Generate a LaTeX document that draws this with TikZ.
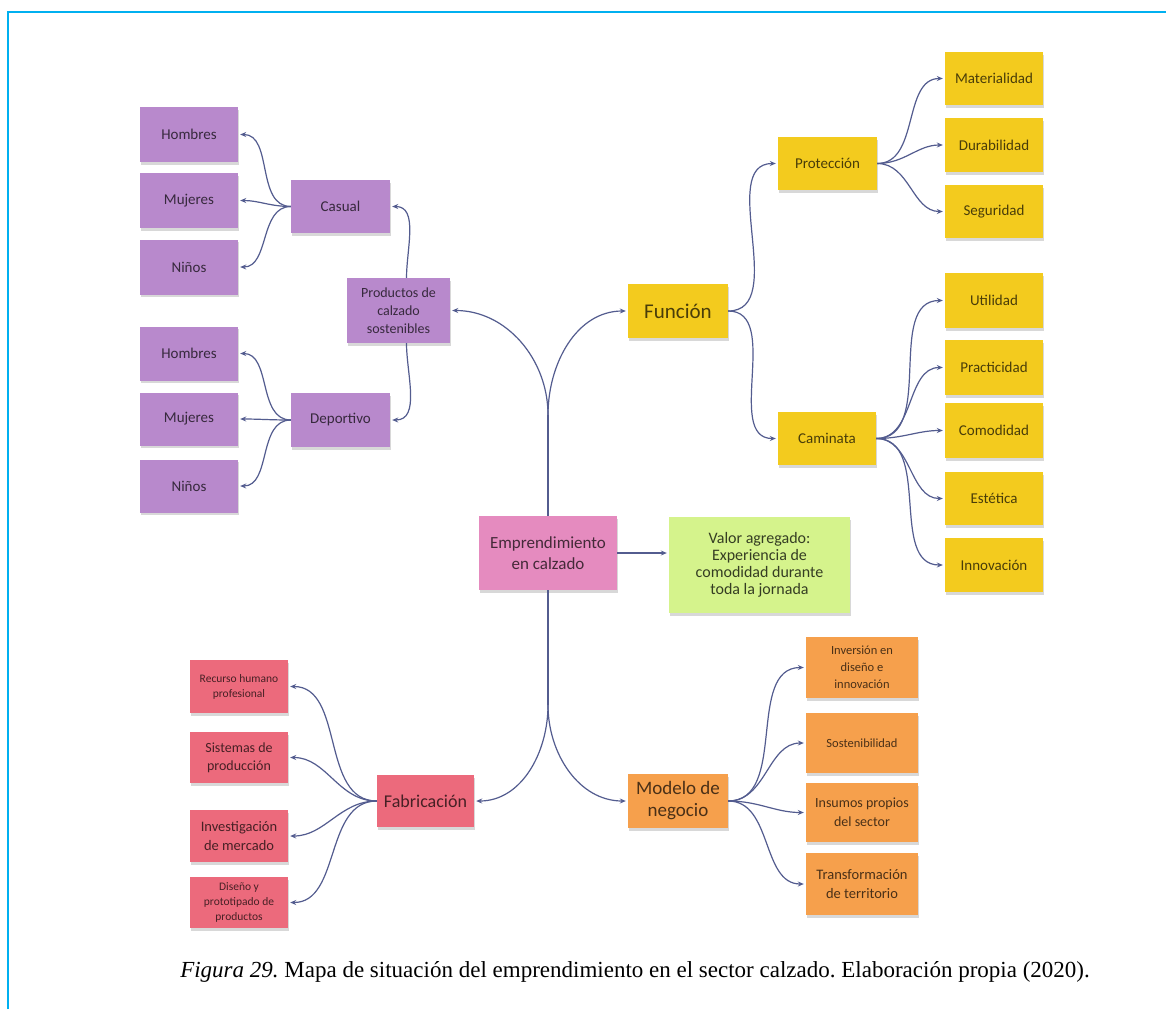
\documentclass[tikz,border=0pt]{standalone}
\usepackage{fontspec}
\setmainfont{Liberation Serif}
\newfontfamily\notefont{Carlito}
\usetikzlibrary{arrows.meta,shadows}
\frenchspacing

\definecolor{frameblue}{HTML}{00B0F0}
\definecolor{purp}{HTML}{B889CC}
\definecolor{yel}{HTML}{F3CB1E}
\definecolor{pink}{HTML}{E58BBF}
\definecolor{lime}{HTML}{D5F38C}
\definecolor{rosered}{HTML}{EC6A7C}
\definecolor{orng}{HTML}{F6A04C}
\definecolor{linkc}{HTML}{535C8F}

\begin{document}
\begin{tikzpicture}[x=1pt,y=-1pt,
  note/.style={fill=#1, text=#1!30!black, draw=none, align=center, inner sep=2pt,
    drop shadow={shadow xshift=0.5pt, shadow yshift=-2.5pt, opacity=0.3},
    font=\notefont\fontsize{15}{17}\selectfont},
  sz/.style 2 args={minimum width=#1pt, minimum height=#2pt},
  fs/.style 2 args={font=\notefont\fontsize{#1}{#2}\selectfont},
  link/.style={draw=linkc, line width=1.2pt},
  arr/.style={link, -{Stealth[length=6pt,width=5pt]}, shorten >=2pt},
]
\useasboundingbox (0,0) rectangle (1166,1009);
\fill[white] (0,0) rectangle (1166,1009);

% frame rules along the top and left edges
\draw[frameblue, line width=2.5pt] (8,1009) -- (8,12) -- (1166,12);

% ---- products (purple) ----
\node[note=purp, sz={98}{55}] (h1) at (189,134.5) {Hombres};
\node[note=purp, sz={98}{55}] (m1) at (189,200.5) {Mujeres};
\node[note=purp, sz={98}{55}] (n1) at (189,267) {Niños};
\node[note=purp, sz={99}{53}] (casual) at (340.5,206.5) {Casual};
\node[note=purp, sz={103}{65}, fs={14}{18}] (prod) at (398.5,310.5) {Productos de\\calzado\\sostenibles};
\node[note=purp, sz={98}{54}] (h2) at (189,353.5) {Hombres};
\node[note=purp, sz={98}{53}] (m2) at (189,419) {Mujeres};
\node[note=purp, sz={98}{53}] (n2) at (189,486) {Niños};
\node[note=purp, sz={99}{54}] (dep) at (340.5,420) {Deportivo};

% ---- function (yellow) ----
\node[note=yel, sz={100}{54}, fs={21}{24}] (func) at (678,311) {Función};
\node[note=yel, sz={99}{53}] (prot) at (827.5,163.5) {Protección};
\node[note=yel, sz={98}{53}] (cam) at (827,438.5) {Caminata};
\node[note=yel, sz={98}{53}] (mat) at (994,78.5) {Materialidad};
\node[note=yel, sz={98}{54}] (dur) at (994,145) {Durabilidad};
\node[note=yel, sz={98}{53}] (seg) at (994,211.5) {Seguridad};
\node[note=yel, sz={98}{55}] (uti) at (994,300.5) {Utilidad};
\node[note=yel, sz={98}{55}] (pra) at (994,367.5) {Practicidad};
\node[note=yel, sz={98}{55}] (com) at (994,430.5) {Comodidad};
\node[note=yel, sz={98}{53}] (est) at (994,498.5) {Estética};
\node[note=yel, sz={98}{54}] (inn) at (994,565) {Innovación};

% ---- centre ----
\node[note=pink, sz={138}{74}, fs={17}{21}] (emp) at (548,553) {Emprendimiento\\en calzado};
\node[note=lime, sz={181}{96}, fs={16}{17}, text=lime!25!black] (val) at (759.5,565) {Valor agregado:\\Experiencia de\\comodidad durante\\toda la jornada};

% ---- manufacturing (red) ----
\node[note=rosered, sz={97}{52}, fs={18}{21}] (fab) at (425.5,801) {Fabricación};
\node[note=rosered, sz={98}{53}, fs={11.5}{15}] (rec) at (239,686.5) {Recurso humano\\profesional};
\node[note=rosered, sz={98}{51}, fs={14}{18}] (sis) at (239,757.5) {Sistemas de\\producción};
\node[note=rosered, sz={98}{52}, fs={14.5}{19}] (inv) at (239,836) {Investigación\\de mercado};
\node[note=rosered, sz={98}{51}, fs={11.5}{15}] (dis) at (239,902.5) {Diseño y\\prototipado de\\productos};

% ---- business model (orange) ----
\node[note=orng, sz={100}{54}, fs={19}{22}] (mod) at (678,801) {Modelo de\\negocio};
\node[note=orng, sz={112}{61}, fs={12.5}{17}] (ide) at (862,667.5) {Inversión en\\diseño e\\innovación};
\node[note=orng, sz={112}{60}, fs={12.5}{17}] (sos) at (862,743) {Sostenibilidad};
\node[note=orng, sz={112}{59}, fs={14}{19}] (ins) at (862,812.5) {Insumos propios\\del sector};
\node[note=orng, sz={112}{62}, fs={14.5}{19}] (tra) at (862,884) {Transformación\\de territorio};

% ---- connectors ----
\coordinate (jT) at (548,415);
\coordinate (jB) at (548,705);
\draw[link] (emp.north) -- (jT);
\draw[arr] (jT) to[out=90,in=180] (func.west);
\draw[arr] (jT) to[out=90,in=0] (prod.east);
\draw[link] (emp.south) -- (jB);
\draw[arr] (jB) to[out=-90,in=0] (fab.east);
\draw[arr] (jB) to[out=-90,in=180] (mod.west);
\draw[arr] (emp.east) -- (emp.east -| val.west);

\draw[arr] ([xshift=8pt]prod.north) to[out=90,in=0] (casual.east);
\draw[arr] ([xshift=8pt]prod.south) to[out=-90,in=0] (dep.east);
\foreach \k in {h1,m1,n1} \draw[arr] (casual.west) to[out=180,in=0] (\k.east);
\foreach \k in {h2,m2,n2} \draw[arr] (dep.west) to[out=180,in=0] (\k.east);

\draw[arr] (func.east) to[out=0,in=180] (prot.west);
\draw[arr] (func.east) to[out=0,in=180] (cam.west);
\foreach \k in {mat,dur,seg} \draw[arr] (prot.east) to[out=0,in=180] (\k.west);
\foreach \k in {uti,pra,com,est,inn} \draw[arr] (cam.east) to[out=0,in=180] (\k.west);

\foreach \k in {rec,sis,inv,dis} \draw[arr] (fab.west) to[out=180,in=0] (\k.east);
\foreach \k in {ide,sos,ins,tra} \draw[arr] (mod.east) to[out=0,in=180] (\k.west);

% ---- caption ----
\node[anchor=base, inner sep=0pt, font=\fontsize{23}{27}\selectfont] (cap) at (635,977)
  {\textit{Figura 29.} Mapa de situación del emprendimiento en el sector calzado. Elaboración propia (2020).};
\end{tikzpicture}
\end{document}
